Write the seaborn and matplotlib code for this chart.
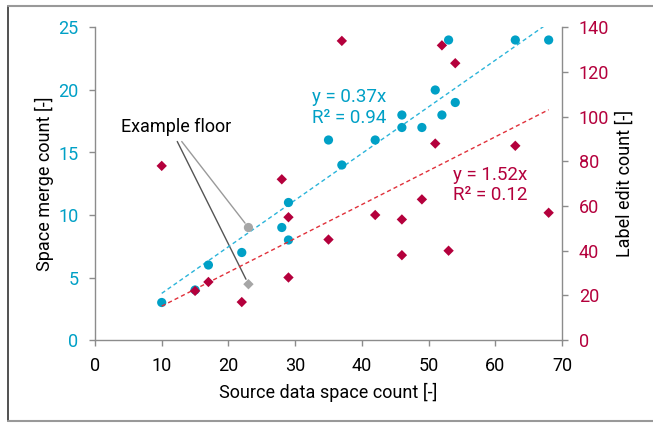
import numpy as np
import pandas as pd
import matplotlib
matplotlib.use("Agg")
import matplotlib.pyplot as plt
from matplotlib.lines import Line2D
import seaborn as sns

# ---- data ----
source_count = [10, 15, 17, 22, 23, 28, 29, 29, 35, 37, 42, 46, 46, 49, 51, 52, 53, 54, 63, 68]
merge_count = [3, 4, 6, 7, 9, 9, 11, 8, 16, 14, 16, 18, 17, 17, 20, 18, 24, 19, 24, 24]
source_count_edit = [10, 15, 17, 22, 23, 28, 29, 29, 35, 37, 42, 46, 46, 49, 51, 52, 53, 54, 63, 68]
label_edit_count = [78, 22, 26, 17, 25, 72, 55, 28, 45, 134, 56, 54, 38, 63, 88, 132, 40, 124, 87, 57]
example_x = 23
x_ticks = [0, 10, 20, 30, 40, 50, 60, 70]
left_ticks = [0, 5, 10, 15, 20, 25]
right_ticks = [0, 20, 40, 60, 80, 100, 120, 140]
eq_merge = "y = 0.37x\nR² = 0.94"
eq_edit = "y = 1.52x\nR² = 0.12"

BLUE = "#00A0C6"
BLUE_LINE = "#2AB4DA"
RED = "#B4003C"
RED_LINE = "#E0303A"
GRAY = "#A6A6A6"
SPINE = "#8C8C8C"

sns.set_theme(style="white")
plt.rcParams["font.family"] = ["Roboto", "DejaVu Sans"]
plt.rcParams["font.size"] = 13

df_m = pd.DataFrame({"x": source_count, "y": merge_count})
df_m["example"] = df_m["x"] == example_x
df_e = pd.DataFrame({"x": source_count_edit, "y": label_edit_count})
df_e["example"] = df_e["x"] == example_x

fig = plt.figure(figsize=(6.53, 4.23), dpi=100)
W, H = 653, 423
ax = fig.add_axes([95 / W, 1 - 340 / H, (562 - 95) / W, (340 - 27.5) / H])
ax2 = ax.twinx()

# scatter points
sns.scatterplot(data=df_m[~df_m.example], x="x", y="y", ax=ax, color=BLUE, marker="o",
                s=44, edgecolor="none", linewidth=0, zorder=3, legend=False)
sns.scatterplot(data=df_m[df_m.example], x="x", y="y", ax=ax, color=GRAY, marker="o",
                s=44, edgecolor="none", linewidth=0, zorder=3, legend=False)
sns.scatterplot(data=df_e[~df_e.example], x="x", y="y", ax=ax2, color=RED, marker="D",
                s=28, edgecolor="none", linewidth=0, zorder=3, legend=False)
sns.scatterplot(data=df_e[df_e.example], x="x", y="y", ax=ax2, color=GRAY, marker="D",
                s=28, edgecolor="none", linewidth=0, zorder=3, legend=False)

# trendlines through origin
xm = np.array(source_count, float); ym = np.array(merge_count, float)
xe = np.array(source_count_edit, float); ye = np.array(label_edit_count, float)
km = (xm * ym).sum() / (xm * xm).sum()
ke = (xe * ye).sum() / (xe * xe).sum()
xl = np.array([xm.min(), xm.max()])
ax.plot(xl, km * xl, color=BLUE_LINE, lw=1.0, ls=(0, (3, 2.2)), zorder=2)
xl2 = np.array([xe.min(), xe.max()])
ax2.plot(xl2, ke * xl2, color=RED_LINE, lw=1.0, ls=(0, (3, 2.2)), zorder=2)

# axes
ax.set_xlim(0, 70)
ax.set_ylim(0, 25)
ax2.set_ylim(0, 140)
ax.set_xticks(x_ticks)
ax.set_yticks(left_ticks)
ax2.set_yticks(right_ticks)
ax.set_xlabel("Source data space count [-]", fontsize=13, color="black", labelpad=6)
ax.set_ylabel("Space merge count [-]", fontsize=13, color="black", labelpad=3)
ax2.set_ylabel("Label edit count [-]", fontsize=13, color="black", labelpad=4.5)

for a in (ax, ax2):
    a.grid(False)
    a.spines["top"].set_visible(False)
    for s in ("left", "right", "bottom"):
        a.spines[s].set_color(SPINE)
        a.spines[s].set_linewidth(1.0)
ax.spines["right"].set_visible(False)
ax2.spines["left"].set_visible(False)
ax2.spines["bottom"].set_visible(False)

ax.tick_params(axis="x", bottom=True, direction="out", length=4, width=1, color=SPINE,
               labelsize=13, labelcolor="black", pad=8)
ax.tick_params(axis="y", left=True, direction="out", length=4, width=1, color=SPINE,
               labelsize=13, labelcolor=BLUE, pad=8)
ax2.tick_params(axis="y", right=True, direction="out", length=4, width=1, color=SPINE,
                labelsize=13, labelcolor=RED, pad=8)

# equation labels
ax.text(32.5, 18.6, eq_merge, color=BLUE, fontsize=13.5, ha="left", va="center", linespacing=1.15)
ax.text(53.7, 12.4, eq_edit, color=RED, fontsize=13.5, ha="left", va="center", linespacing=1.15)

# example floor annotation
ax.text(12.2, 17.05, "Example floor", color="black", fontsize=13, ha="center", va="center")
ex_m = df_m[df_m.example].iloc[0]
ex_e = df_e[df_e.example].iloc[0]
ax.annotate("", xy=(ex_m.x, ex_m.y), xytext=(13.0, 15.88), xycoords="data",
            arrowprops=dict(arrowstyle="-", color="#9A9A9A", lw=1.0, shrinkA=0, shrinkB=4), zorder=1)
ax.annotate("", xy=(ex_e.x, ex_e.y), xycoords=ax2.transData, xytext=(12.33, 15.88),
            textcoords=ax.transData,
            arrowprops=dict(arrowstyle="-", color="#555555", lw=1.0, shrinkA=0, shrinkB=4), zorder=1)

# outer frame
fig.add_artist(Line2D([8 / W, 8 / W], [1 - 6 / H, 1 - 420.5 / H], transform=fig.transFigure,
                      color="#333333", lw=1.2))
fig.add_artist(Line2D([8 / W, 1], [1 - 6 / H, 1 - 6 / H], transform=fig.transFigure,
                      color="#999999", lw=1.5))
fig.add_artist(Line2D([8 / W, 1], [1 - 420.5 / H, 1 - 420.5 / H], transform=fig.transFigure,
                      color="#999999", lw=1.5))

fig.savefig("out.png", dpi=100)
